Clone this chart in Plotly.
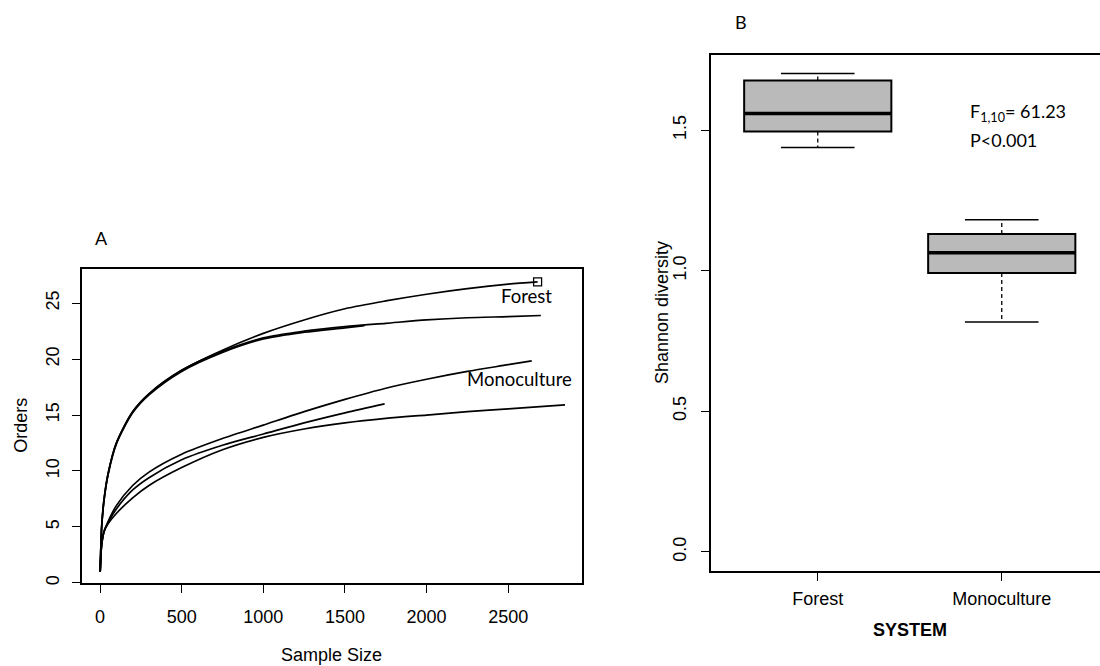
import plotly.graph_objects as go

# ---------------- Panel A: rarefaction curves ----------------
forest_1_x = [1, 10, 25, 50, 100, 200, 300, 500, 750, 1000, 1250, 1500, 1750, 2000, 2250, 2500, 2680]
forest_1_y = [1, 5.0, 7.5, 9.8, 12.5, 15.3, 16.9, 19.0, 20.8, 22.3, 23.5, 24.5, 25.2, 25.8, 26.3, 26.7, 26.9]

forest_2_x = [1, 10, 25, 50, 100, 200, 300, 500, 750, 1000, 1250, 1500, 1750, 2000, 2250, 2500, 2700]
forest_2_y = [1, 5.0, 7.5, 9.8, 12.5, 15.3, 16.9, 19.0, 20.7, 21.9, 22.5, 22.9, 23.2, 23.5, 23.7, 23.8, 23.9]

forest_3_x = [1, 10, 25, 50, 100, 200, 300, 500, 750, 1000, 1250, 1500, 1620]
forest_3_y = [1, 4.9, 7.4, 9.7, 12.4, 15.2, 16.8, 18.9, 20.6, 21.8, 22.4, 22.8, 23.0]

mono_1_x = [1, 10, 25, 50, 100, 200, 300, 500, 750, 1000, 1250, 1500, 1750, 2000, 2250, 2500, 2644]
mono_1_y = [1, 3.4, 4.6, 5.5, 6.9, 8.7, 9.9, 11.5, 12.9, 14.1, 15.3, 16.4, 17.4, 18.2, 18.9, 19.5, 19.85]

mono_2_x = [1, 10, 25, 50, 100, 200, 300, 500, 750, 1000, 1250, 1500, 1743]
mono_2_y = [1, 3.4, 4.6, 5.4, 6.6, 8.3, 9.4, 11.0, 12.3, 13.3, 14.3, 15.2, 16.0]

mono_3_x = [1, 10, 25, 50, 100, 200, 300, 500, 750, 1000, 1250, 1500, 1750, 2000, 2250, 2500, 2848]
mono_3_y = [1, 3.4, 4.6, 5.3, 6.2, 7.6, 8.7, 10.3, 11.9, 13.0, 13.75, 14.3, 14.7, 15.0, 15.3, 15.55, 15.9]

curves = [
    (forest_1_x, forest_1_y), (forest_2_x, forest_2_y), (forest_3_x, forest_3_y),
    (mono_1_x, mono_1_y), (mono_2_x, mono_2_y), (mono_3_x, mono_3_y),
]

a_xticks = [0, 500, 1000, 1500, 2000, 2500]
a_yticks = [0, 5, 10, 15, 20, 25]

# ---------------- Panel B: Shannon diversity by system ----------------
systems = ["Forest", "Monoculture"]
system_pos = [1, 2]
whisker_low = [1.438, 0.818]
box_q1 = [1.495, 0.992]
box_median = [1.559, 1.064]
box_q3 = [1.677, 1.131]
whisker_high = [1.702, 1.181]

b_yticks = [0.0, 0.5, 1.0, 1.5]
b_yticklabels = ["0.0", "0.5", "1.0", "1.5"]

FONT_R = "Liberation Sans, Arial, sans-serif"
FONT_TXT = "Lato, Open Sans, sans-serif"

fig = go.Figure()

for cx, cy in curves:
    fig.add_trace(go.Scatter(
        x=cx, y=cy, mode="lines", xaxis="x", yaxis="y",
        line=dict(color="black", width=1.7, shape="spline", smoothing=0.8),
        showlegend=False, hoverinfo="skip"))

# open square at the end of the longest forest curve
fig.add_trace(go.Scatter(
    x=[forest_1_x[-1]], y=[forest_1_y[-1]], mode="markers", xaxis="x", yaxis="y",
    marker=dict(symbol="square-open", size=8, color="black", line=dict(width=1.3)),
    showlegend=False, hoverinfo="skip"))

# boxes
for pos, q1, med, q3 in zip(system_pos, box_q1, box_median, box_q3):
    fig.add_trace(go.Box(
        x=[pos], q1=[q1], median=[med], q3=[q3], lowerfence=[q1], upperfence=[q3],
        width=0.8, xaxis="x2", yaxis="y2", boxpoints=False,
        fillcolor="#bababa", line=dict(color="black", width=2),
        showlegend=False, hoverinfo="skip"))

# medians, whiskers and caps
for pos, lo, q1, med, q3, hi in zip(system_pos, whisker_low, box_q1, box_median, box_q3, whisker_high):
    fig.add_trace(go.Scatter(
        x=[pos - 0.4, pos + 0.4], y=[med, med], mode="lines", xaxis="x2", yaxis="y2",
        line=dict(color="black", width=3.5), showlegend=False, hoverinfo="skip"))
    for a, b in ((q3, hi), (q1, lo)):
        fig.add_trace(go.Scatter(
            x=[pos, pos], y=[a, b], mode="lines", xaxis="x2", yaxis="y2",
            line=dict(color="black", width=1.3, dash="4px,3px"),
            showlegend=False, hoverinfo="skip"))
        fig.add_trace(go.Scatter(
            x=[pos - 0.2, pos + 0.2], y=[b, b], mode="lines", xaxis="x2", yaxis="y2",
            line=dict(color="black", width=1.5), showlegend=False, hoverinfo="skip"))

axis_common = dict(
    showgrid=False, zeroline=False, showline=True, linecolor="black", linewidth=1.5,
    ticks="outside", ticklen=8, tickwidth=1.2, tickcolor="black",
    tickfont=dict(family=FONT_R, size=18, color="black"),
)

fig.update_layout(
    width=1100, height=666,
    margin=dict(l=0, r=0, t=0, b=0),
    paper_bgcolor="white", plot_bgcolor="white",
    xaxis=dict(domain=[0.0743, 0.5288], range=[-112, 2950], tickvals=a_xticks,
               mirror=True, ticklabelstandoff=8, anchor="y", **axis_common),
    yaxis=dict(domain=[0.1216, 0.5956], range=[-0.04, 28.1], tickvals=a_yticks,
               tickangle=-90, mirror=True, ticklabelstandoff=6, anchor="x", **axis_common),
    xaxis2=dict(domain=[0.6464, 1.0], range=[0.42, 2.534], tickvals=system_pos, ticktext=systems,
                mirror=True, ticklabelstandoff=3, anchor="y2", **axis_common),
    yaxis2=dict(domain=[0.1401, 0.9174], range=[-0.068, 1.768], tickvals=b_yticks,
                ticktext=b_yticklabels, tickangle=-90, mirror=False, ticklabelstandoff=8,
                anchor="x2", **axis_common),
)


def label(text, x, y, xref="paper", yref="paper", size=18, family=FONT_R,
          angle=0, xanchor="center"):
    return dict(text=text, x=x, y=y, xref=xref, yref=yref, textangle=angle,
                xanchor=xanchor, yanchor="middle", showarrow=False,
                font=dict(family=family, size=size, color="black"))


ann = [
    # axis titles
    label("Sample Size", 331.7 / 1100, 1 - 657 / 666),
    label("Orders", 21 / 1100, 1 - 427 / 666, angle=-90),
    label("<b>SYSTEM</b>", 910 / 1100, 1 - 632 / 666),
    label("Shannon diversity", 662 / 1100, 1 - 314 / 666, angle=-90),
    # panel letters
    label("A", 101 / 1100, 1 - 239 / 666, family=FONT_TXT),
    label("B", 741 / 1100, 1 - 22 / 666, family=FONT_TXT),
    # curve labels
    label("Forest", 2610, 25.65, xref="x", yref="y", size=18.5, family=FONT_TXT),
    label("Monoculture", 2567, 18.2, xref="x", yref="y", size=18.5, family=FONT_TXT),
    # test statistics
    label("F<sub>1,10</sub>= 61.23", 1.817, 1.562, xref="x2", yref="y2",
          family=FONT_TXT, xanchor="left"),
    label("P<0.001", 1.817, 1.464, xref="x2", yref="y2", family=FONT_TXT, xanchor="left"),
]

fig.update_layout(annotations=ann)

fig.write_html("out.html")
